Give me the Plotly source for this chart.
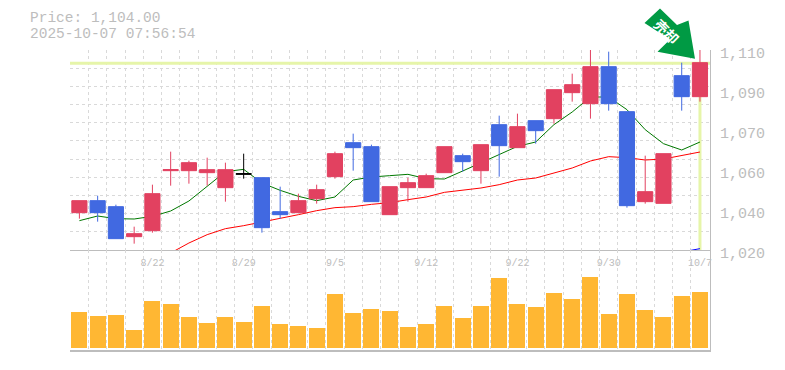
import plotly.graph_objects as go

dates = ["8/18","8/19","8/20","8/21","8/22","8/25","8/26","8/27","8/28","8/29",
         "9/1","9/2","9/3","9/4","9/5","9/8","9/9","9/10","9/11","9/12",
         "9/16","9/17","9/18","9/19","9/22","9/24","9/25","9/26","9/29","9/30",
         "10/1","10/2","10/3","10/6","10/7"]
opens = [1036.8,1042.2,1039.5,1026.0,1028.7,1055.7,1055.7,1054.8,1048.05,1054.05,
         1052.55,1037.25,1036.8,1043.1,1053.0,1068.3,1066.5,1035.9,1048.05,1048.05,
         1054.8,1062.45,1055.7,1076.4,1066.05,1078.2,1079.1,1090.8,1085.85,1102.5,
         1082.25,1041.75,1041.0,1098.45,1089.0]
closes = [1042.2,1036.8,1025.1,1027.35,1045.35,1056.15,1059.3,1056.15,1056.15,1054.35,
          1030.05,1035.9,1042.2,1047.15,1063.35,1066.05,1041.75,1048.5,1050.3,1053.45,
          1066.5,1059.75,1067.4,1066.95,1075.5,1073.7,1092.15,1094.4,1102.5,1085.85,
          1039.95,1046.25,1063.35,1089.0,1104.3]
highs = [1042.2,1044.45,1040.4,1030.5,1049.4,1064.25,1060.2,1061.55,1059.3,1063.35,
         1052.55,1048.5,1045.35,1049.4,1064.25,1072.35,1067.4,1048.5,1052.55,1054.35,
         1066.5,1063.35,1067.4,1080.45,1081.35,1078.2,1092.15,1099.35,1110.15,1109.25,
         1082.25,1062.45,1063.35,1104.3,1110.15]
lows = [1034.1,1032.75,1025.1,1022.85,1027.8,1048.95,1049.85,1048.95,1041.75,1052.1,
        1027.8,1034.1,1036.8,1040.85,1052.1,1055.7,1041.75,1035.9,1041.75,1048.05,
        1054.8,1055.25,1049.85,1053.0,1066.05,1067.85,1076.85,1086.75,1079.1,1082.7,
        1039.05,1040.85,1041.0,1082.7,1086.75]
ma_short = [1033.2,1035.3,1034.1,1033.95,1035.15,1037.55,1042.05,1048.65,1055.25,1056.3,
            1050.15,1046.85,1044.15,1042.2,1043.85,1051.5,1052.85,1053.45,1054.05,1052.1,
            1051.95,1055.55,1059.15,1062.9,1066.65,1068.6,1076.4,1082.1,1088.85,1088.85,
            1083.15,1074.15,1067.85,1065.0,1068.6]
ma_long = [None,None,None,None,None,1018.65,1023.15,1026.9,1029.6,1030.95,
           1032.45,1034.25,1035.9,1037.7,1039.05,1039.5,1040.55,1041.3,1042.65,1043.85,
           1045.95,1046.85,1047.9,1049.4,1051.5,1052.4,1054.65,1056.9,1060.05,1062.0,
           1061.55,1060.5,1060.95,1062.45,1064.1]
ma_third = [None]*33 + [1019.1,1020.6]
volumes = [36.3,32.3,33.3,18.3,47.3,44.3,31.3,25.3,31.3,26.3,42.3,24.3,22.3,20.3,54.3,35.3,39.3,37.3,
           21.3,24.3,42.3,30.3,42.3,70.3,44.3,41.3,55.3,49.3,71.3,34.3,54.3,38.3,31.3,52.3,56.3]
price_ticks = [1110,1092,1074,1056,1038,1020]
price_labels = ["1,110","1,090","1,070","1,060","1,040","1,020"]
label_idx = [4,9,14,19,24,29,34]
last_price = 1104.0
doji = [9]

# the page body has an 8px margin, so the figure is drawn 8px in from the window corner
W, H = 769, 354
OFFSET = 8
L, R, T, B = 62, 67, 42, 12
X_RANGE = [-0.515, 34.55]
Y_RANGE = [1020, 1110]
VOL_RANGE = [-2, 98]
GRAY = "#bdbdbd"
GRID = "#d9d9d9"
MONO = "Liberation Mono"
n = len(dates)
xs = list(range(n))
xgrid = [i - 0.5 for i in range(n + 1)]
ygrid = [1020 + k * 90 / 11 for k in range(12)]


def px(x):
    return (x - OFFSET - L) / (W - L - R)


def py(y):
    return (H - B - (y - OFFSET)) / (H - T - B)


fig = go.Figure()
fig.add_trace(go.Scatter(x=[X_RANGE[0], X_RANGE[1]], y=[last_price, last_price], mode="lines",
                         line=dict(color="#e6f5a9", width=3), xaxis="x", yaxis="y", showlegend=False))
fig.add_trace(go.Scatter(x=[xs[-1], xs[-1]], y=[last_price, Y_RANGE[0]], mode="lines",
                         line=dict(color="#e6f5a9", width=3), xaxis="x", yaxis="y", showlegend=False))
for vals, col in [(ma_short, "#007800"), (ma_long, "#ff0000"), (ma_third, "#0000ff")]:
    fig.add_trace(go.Scatter(x=xs, y=vals, mode="lines", line=dict(color=col, width=1),
                             cliponaxis=False, xaxis="x", yaxis="y", showlegend=False))

keep = [i for i in xs if i not in doji]
fig.add_trace(go.Candlestick(
    x=keep, open=[opens[i] for i in keep], high=[highs[i] for i in keep],
    low=[lows[i] for i in keep], close=[closes[i] for i in keep],
    increasing=dict(line=dict(color="#e24160", width=1), fillcolor="#e24160"),
    decreasing=dict(line=dict(color="#4169e1", width=1), fillcolor="#4169e1"),
    xaxis="x3", yaxis="y3", showlegend=False))
fig.add_trace(go.Candlestick(
    x=doji, open=[opens[i] for i in doji], high=[highs[i] for i in doji],
    low=[lows[i] for i in doji], close=[closes[i] for i in doji],
    increasing=dict(line=dict(color="#000000", width=1), fillcolor="#000000"),
    decreasing=dict(line=dict(color="#000000", width=1), fillcolor="#000000"),
    xaxis="x3", yaxis="y3", showlegend=False))
fig.add_trace(go.Bar(x=xs, y=volumes, marker=dict(color="#ffb733", line=dict(width=0)),
                     width=0.875, xaxis="x2", yaxis="y2", showlegend=False))

minor_x = dict(tickvals=xgrid, showgrid=True, gridcolor=GRID, griddash="3px,3px", gridwidth=1, ticks="")
minor_y = dict(tickvals=ygrid, showgrid=True, gridcolor=GRID, griddash="3px,3px", gridwidth=1, ticks="")

arrow = [(644.5, 23), (660, 8.5), (677, 25), (688.5, 20.5), (695, 58.7), (657.5, 51.7), (670, 39.5)]
arrow_path = "M " + " L ".join(f"{px(a):.5f},{py(b):.5f}" for a, b in arrow) + " Z"

fig.update_layout(
    width=W, height=H, autosize=False,
    margin=dict(l=L, r=R, t=T, b=B, pad=0, autoexpand=False),
    paper_bgcolor="white", plot_bgcolor="white",
    boxgap=0.17, boxgroupgap=0, bargap=0, showlegend=False,
    xaxis=dict(domain=[0, 1], range=X_RANGE, anchor="y", tickmode="array", automargin=False,
               tickvals=label_idx, ticktext=[dates[i] for i in label_idx],
               showgrid=False, zeroline=False, showline=True, linecolor=GRAY, linewidth=1,
               tickfont=dict(family=MONO, size=10, color=GRAY), ticks="", ticklabelstandoff=3,
               minor=minor_x),
    yaxis=dict(domain=[1/3, 1], range=Y_RANGE, anchor="x", side="right", tickmode="array", automargin=False,
               tickvals=price_ticks, ticktext=price_labels, showgrid=False, zeroline=False,
               showline=True, linecolor=GRAY, linewidth=1,
               tickfont=dict(family=MONO, size=15, color=GRAY, weight="normal"), ticks="",
               ticklabelstandoff=6, ticklabelshift=3, minor=minor_y),
    xaxis2=dict(domain=[0, 1], range=X_RANGE, anchor="y2", showticklabels=False, showgrid=False, automargin=False,
                zeroline=False, showline=True, linecolor=GRAY, linewidth=1.5, ticks="", tickmode="array",
                tickvals=[], minor=minor_x),
    yaxis2=dict(domain=[0, 1/3], range=VOL_RANGE, anchor="x2", side="right", showticklabels=False, automargin=False,
                showgrid=False, zeroline=False, showline=True, linecolor=GRAY, linewidth=1, ticks=""),
    xaxis3=dict(domain=[0, 1], range=X_RANGE, overlaying="x", anchor="y3", visible=False, automargin=False,
                rangeslider=dict(visible=False)),
    yaxis3=dict(domain=[1/3, 1], range=Y_RANGE, overlaying="y", anchor="x3", visible=False, automargin=False),
    shapes=[dict(type="path", xref="paper", yref="paper", path=arrow_path,
                 fillcolor="#009a44", line=dict(width=0), layer="above")],
    annotations=[
        dict(text=f"Price: {last_price:,.2f}", xref="paper", yref="paper", x=px(28), y=py(18),
             xanchor="left", yanchor="middle", showarrow=False,
             font=dict(family=MONO, size=14.5, color=GRAY)),
        dict(text="2025-10-07 07:56:54", xref="paper", yref="paper", x=px(28), y=py(34),
             xanchor="left", yanchor="middle", showarrow=False,
             font=dict(family=MONO, size=14.5, color=GRAY)),
        dict(text="<b>売却</b>", xref="paper", yref="paper", x=px(666.5), y=py(31), textangle=45,
             xanchor="center", yanchor="middle", showarrow=False,
             font=dict(family="Noto Sans CJK JP", size=14, color="white")),
    ],
)
fig.write_html("out.html")
